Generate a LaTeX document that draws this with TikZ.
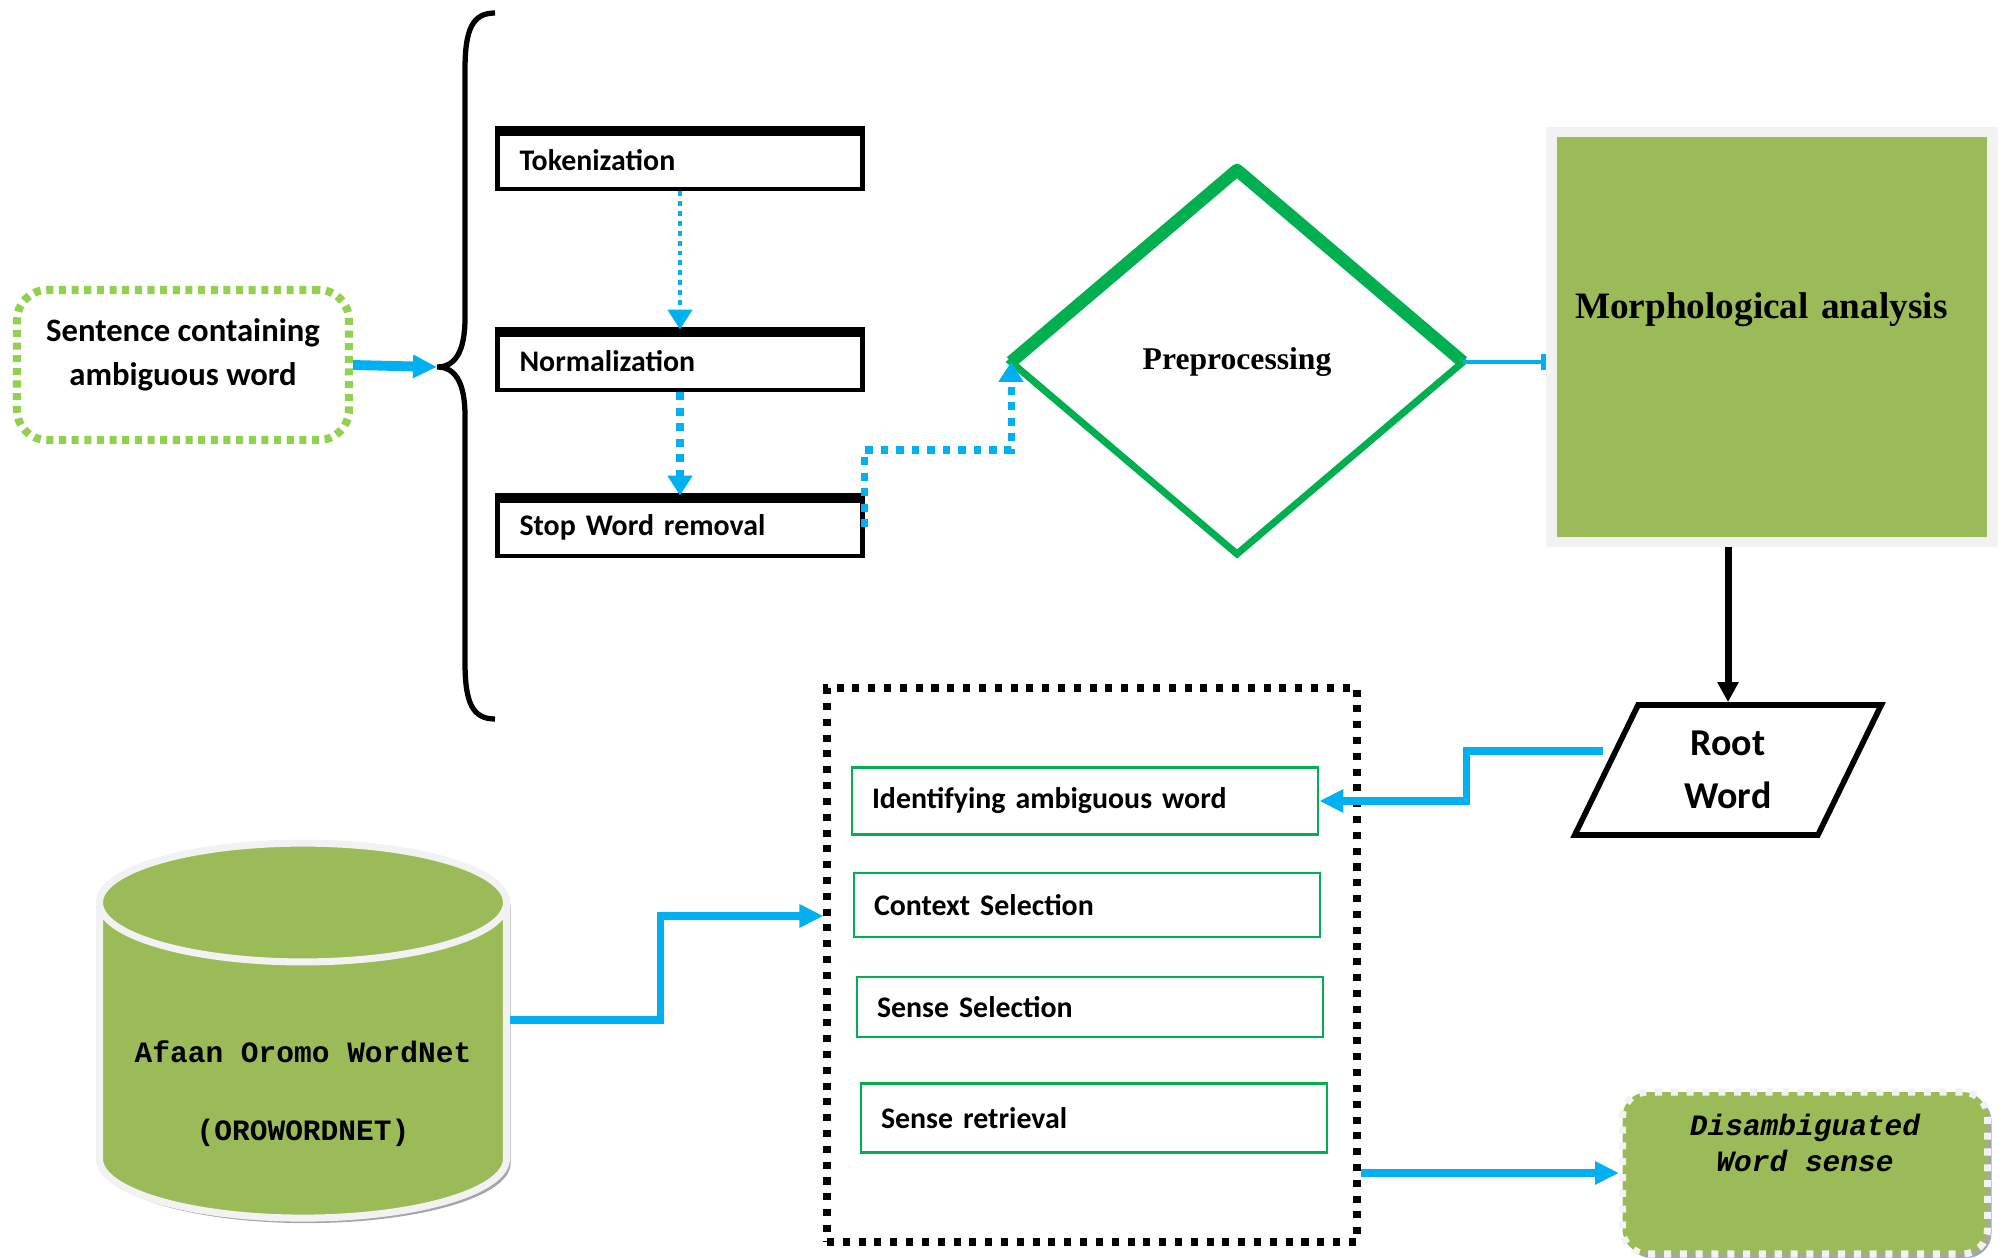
\documentclass[tikz,border=0pt]{standalone}
\usepackage{fontspec}
\setmainfont{Liberation Serif}
\newfontfamily\calibri{Carlito}
\newfontfamily\courier{Liberation Mono}
\usetikzlibrary{shapes.geometric,arrows.meta,shadows}

\definecolor{skyblue}{HTML}{00B0F0}
\definecolor{olivegreen}{HTML}{9BBB59}
\definecolor{boxgreen}{HTML}{00B050}
\definecolor{limegreen}{HTML}{92D050}
\definecolor{paleborder}{HTML}{F2F2F2}

\tikzstyle{inputbox}=[rectangle,rounded corners=3mm,draw=limegreen,line width=2.3pt,dash pattern=on 2pt off 1.6pt,minimum width=33.2mm,minimum height=15mm,align=center,font=\calibri\bfseries\fontsize{9.3}{12.8}\selectfont,text height=4.4mm,text depth=0.2mm]
\tikzstyle{prepbox}=[rectangle,draw=black,line width=1.4pt,minimum height=5.8mm,text width=32.1mm,inner xsep=2.2mm,align=left,font=\calibri\bfseries\fontsize{8.5}{10}\selectfont]
\tikzstyle{decision}=[diamond,draw=boxgreen,line width=2pt,minimum width=45.2mm,minimum height=38.4mm,inner sep=0,outer sep=0,font=\bfseries\fontsize{9}{11}\selectfont]
\tikzstyle{morphbox}=[rectangle,fill=olivegreen,draw=paleborder,line width=3pt,minimum width=44.1mm,minimum height=41mm,drop shadow={shadow xshift=0.5mm,shadow yshift=-0.5mm,fill=gray,opacity=0.7},text width=39.4mm,inner xsep=2.35mm,align=left,font=\bfseries\fontsize{10.6}{12}\selectfont,text height=3mm,text depth=6.6mm]
\tikzstyle{rootbox}=[trapezium,trapezium left angle=69,trapezium right angle=111,trapezium stretches=true,draw=black,line width=1.6pt,minimum width=30.7mm,minimum height=13mm,align=center,font=\calibri\bfseries\fontsize{10.8}{15}\selectfont]
\tikzstyle{modulebox}=[rectangle,draw=black,line width=2pt,dash pattern=on 2pt off 2.5pt,minimum width=53mm,minimum height=55.4mm]
\tikzstyle{stepbox}=[rectangle,draw=boxgreen,line width=0.8pt,text width=42.6mm,inner xsep=2mm,align=left,font=\calibri\bfseries\fontsize{8.5}{10}\selectfont]
\tikzstyle{database}=[cylinder,shape border rotate=90,aspect=0.33,minimum width=40.7mm,minimum height=37.5mm,fill=olivegreen,draw=paleborder,line width=2pt,drop shadow={shadow xshift=0.4mm,shadow yshift=-0.5mm,fill=gray,opacity=0.7},align=center,font=\courier\bfseries\fontsize{8.4}{10}\selectfont,text height=13.6mm,text depth=0mm]
\tikzstyle{outputbox}=[rectangle,rounded corners=2.5mm,fill=olivegreen,draw=paleborder,line width=2pt,dash pattern=on 2pt off 2.5pt,minimum width=36.5mm,minimum height=16.2mm,drop shadow={shadow xshift=0.4mm,shadow yshift=-0.4mm,fill=gray,opacity=0.7},align=center,font=\courier\bfseries\itshape\fontsize{8.4}{10}\selectfont,text height=2.5mm,text depth=2.9mm]
\tikzstyle{flowarrow}=[draw=skyblue,line width=2pt,-{Triangle[length=2.4mm,width=2.2mm]}]
\tikzstyle{dotarrow}=[draw=skyblue,line width=2pt,dash pattern=on 2.2pt off 2.2pt,-{Triangle[length=2mm,width=2.4mm]}]

\begin{document}
\begin{tikzpicture}[x=0.1mm,y=-0.1mm]
    \useasboundingbox (0,0) rectangle (2007,1258);

    \node[inputbox] (sentence) at (183,365) {Sentence containing\\ambiguous word};
    \draw[line width=1.5pt] (495,13) .. controls (472,13) and (465,30) .. (465,70) -- (465,318)
        .. controls (465,352) and (455,367) .. (437,367) coordinate (bracetip)
        .. controls (455,367) and (465,382) .. (465,416) -- (465,662)
        .. controls (465,702) and (472,719) .. (495,719);
    \draw[flowarrow, line width=2.8pt] (sentence.east) -- (bracetip);

    \foreach \name/\y/\txt in {tok/160/Tokenization, norm/361/Normalization, stop/527/Stop Word removal} {
        \node[prepbox] (\name) at (680,\y) {\txt};
        \draw[line width=2.8pt] ([yshift=-0.7pt]\name.north west) -- ([yshift=-0.7pt]\name.north east);
    }
    \node[decision] (prep) at (1237,362) {Preprocessing};
    \draw[boxgreen, line width=3.6pt, line join=round] (prep.west) -- (prep.north) -- (prep.east);

    \draw[dotarrow, line width=1.3pt, dash pattern=on 1.4pt off 1.4pt] (tok) -- (norm);
    \draw[dotarrow] (norm) -- (stop);
    \draw[dotarrow] (stop.east) -- ++(0,-77) -| (prep.west);

    \node[morphbox] (morph) at (1772,337) {Morphological analysis};
    \draw[draw=skyblue, line width=1.4pt, -{Bar[width=1.6mm]}] (prep.east) -- (prep.east -| morph.west);

    \node[rootbox] (root) at (1728,770) {Root\\Word};
    \draw[-{Triangle[length=2mm,width=2mm]}, line width=2pt] (morph.south -| root.north) -- (root.north);

    \node[modulebox] (wsd) at (1092,965) {};
    \foreach \name/\x/\y/\h/\txt in {ident/1085/801/67/Identifying ambiguous word, ctx/1087/905/64/Context Selection, sensesel/1090/1007/60/Sense Selection, senseret/1094/1118/69/Sense retrieval}
        \node[stepbox, minimum height=\h*0.1mm] (\name) at (\x,\y) {\txt};
    \draw[flowarrow] ([yshift=1.9mm]root.west) -| ([xshift=14.7mm]ident.east) -- (ident.east);

    \node[database] (db) at (303,1072) {Afaan Oromo WordNet\\[12pt](OROWORDNET)};
    \draw[flowarrow] ([yshift=5.2mm]db.east) -| ([xshift=-16.3mm,yshift=4.9mm]wsd.west) -- ([yshift=4.9mm]wsd.west);

    \node[outputbox] (disamb) at (1805,1173) {Disambiguated\\Word sense};
    \draw[flowarrow] (wsd.east |- disamb.west) -- (disamb.west);
\end{tikzpicture}
\end{document}
